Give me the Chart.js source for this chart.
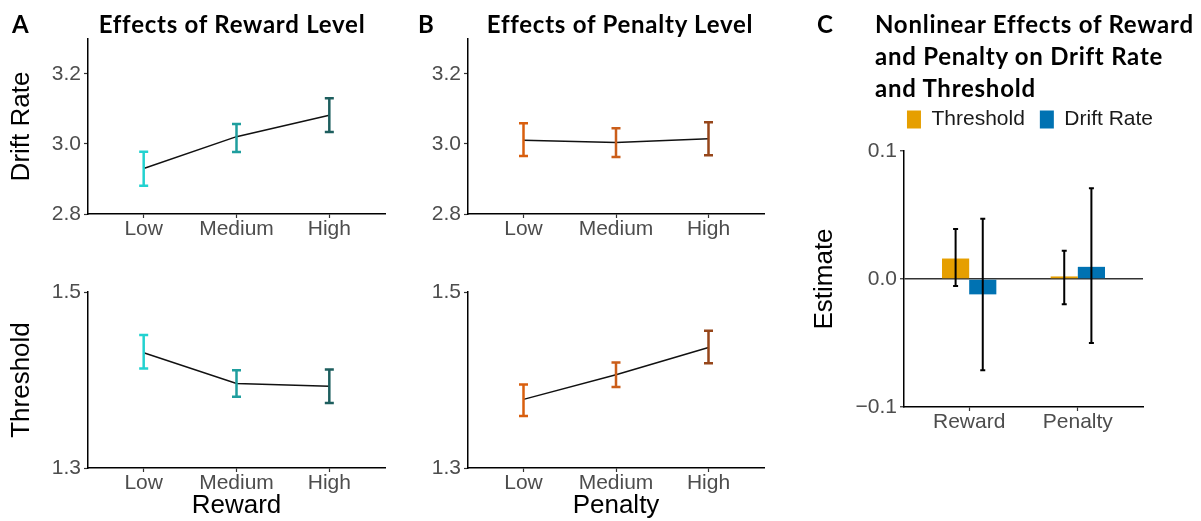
<!DOCTYPE html>
<html><head><meta charset="utf-8">
<script src="https://cdn.jsdelivr.net/npm/chart.js@4.4.0/dist/chart.umd.min.js"></script>
<style>
html,body{margin:0;padding:0;background:#fff;}
#wrap{position:relative;width:1201px;height:521px;overflow:hidden;background:#fff;}
canvas{position:absolute;}
.t{position:absolute;font-family:'Lato',sans-serif;font-weight:700;font-size:24px;letter-spacing:0.75px;color:#000;white-space:nowrap;line-height:32px;}
</style></head><body>
<div id="wrap">
  <canvas id="aTop" width="400" height="260" style="left:0;top:0"></canvas>
  <canvas id="aBot" width="400" height="261" style="left:0;top:260px"></canvas>
  <canvas id="bTop" width="400" height="260" style="left:400px;top:0"></canvas>
  <canvas id="bBot" width="400" height="261" style="left:400px;top:260px"></canvas>
  <canvas id="cChart" width="450" height="427" style="left:805px;top:94px"></canvas>
  <div class="t" style="left:12px;top:8px">A</div>
  <div class="t" style="left:32px;top:8px;width:400px;text-align:center">Effects of Reward Level</div>
  <div class="t" style="left:418px;top:8px">B</div>
  <div class="t" style="left:420px;top:8px;width:400px;text-align:center">Effects of Penalty Level</div>
  <div class="t" style="left:817px;top:8px">C</div>
  <div class="t" style="left:875px;top:8px">Nonlinear Effects of Reward<br>and Penalty on Drift Rate<br>and Threshold</div>
</div>
<script>
// ---- data ----
const levels = ['Low', 'Medium', 'High'];
const rewardDriftMean = [2.930, 3.021, 3.082];
const rewardDriftLow  = [2.881, 2.977, 3.034];
const rewardDriftHigh = [2.978, 3.057, 3.131];
const rewardThreshMean = [1.431, 1.396, 1.393];
const rewardThreshLow  = [1.413, 1.381, 1.374];
const rewardThreshHigh = [1.451, 1.411, 1.412];
const penaltyDriftMean = [3.011, 3.004, 3.015];
const penaltyDriftLow  = [2.966, 2.963, 2.968];
const penaltyDriftHigh = [3.059, 3.045, 3.062];
const penaltyThreshMean = [1.378, 1.406, 1.437];
const penaltyThreshLow  = [1.359, 1.392, 1.419];
const penaltyThreshHigh = [1.395, 1.420, 1.456];
const effectCats = ['Reward', 'Penalty'];
const thresholdEst  = [0.016, 0.002];
const thresholdLow  = [-0.0055, -0.0198];
const thresholdHigh = [0.039, 0.022];
const driftEst  = [-0.012, 0.0095];
const driftLow  = [-0.0713, -0.050];
const driftHigh = [0.047, 0.0709];
const driftTicks = [2.8, 3.0, 3.2];
const driftTickLabels = ['2.8', '3.0', '3.2'];
const threshTicks = [1.3, 1.5];
const threshTickLabels = ['1.3', '1.5'];
const estTicks = [-0.1, 0, 0.1];
const estTickLabels = ['\u22120.1', '0.0', '0.1'];

// ---- styles ----
const FONT = "'Liberation Sans', Arial, sans-serif";
const rewardColors = ['#22D2D0', '#1F9E9E', '#1D5E5E'];
const penaltyColors = ['#D95F0E', '#CB5E1A', '#96461A'];
const thresholdColor = '#E69F00';
const driftColor = '#0072B2';

const errorBars = {
  id: 'errorBars',
  afterDatasetsDraw(chart, args, opts) {
    const ctx = chart.ctx;
    const yScale = chart.scales.y;
    chart.data.datasets.forEach((ds, i) => {
      if (!ds.errLow) return;
      const meta = chart.getDatasetMeta(i);
      meta.data.forEach((el, j) => {
        const x = el.x;
        const yLo = yScale.getPixelForValue(ds.errLow[j]);
        const yHi = yScale.getPixelForValue(ds.errHigh[j]);
        const color = Array.isArray(ds.errColor) ? ds.errColor[j] : ds.errColor;
        const h = opts.cap / 2;
        ctx.save();
        ctx.strokeStyle = color;
        ctx.lineWidth = opts.width;
        ctx.beginPath();
        ctx.moveTo(x, yLo); ctx.lineTo(x, yHi);
        ctx.moveTo(x - h, yLo); ctx.lineTo(x + h, yLo);
        ctx.moveTo(x - h, yHi); ctx.lineTo(x + h, yHi);
        ctx.stroke();
        ctx.restore();
      });
    });
  }
};

const legendGap = {
  id: 'legendGap',
  afterInit(chart, args, opts) {
    const lg = chart.legend;
    if (!lg || !opts || !opts.extra) return;
    const fit = lg.fit.bind(lg);
    lg.fit = function () { fit(); this.height += opts.extra; };
  }
};

const fixY = w => s => { s.width = w; s.paddingTop = 0; s.paddingBottom = 0; };
const fixX = h => s => { s.height = h; s.paddingLeft = 0; s.paddingRight = 0; };

const tickFont = { family: FONT, size: 21 };
const titleFont = { family: FONT, size: 26 };
const axisGrid = { display: true, drawOnChartArea: false, tickLength: 4, tickColor: '#333', tickWidth: 1.2 };
const axisBorder = { display: true, color: '#000', width: 1.5 };

function linePanel(id, means, lows, highs, colors, yMin, yMax, yTicks, yLabels, yTitle, xTitle, yW, xH, pad) {
  return new Chart(document.getElementById(id), {
    type: 'line',
    data: {
      datasets: [{
        data: levels.map((l, i) => ({ x: i + 1, y: means[i] })),
        borderColor: '#111',
        borderWidth: 1.5,
        pointRadius: 0,
        tension: 0,
        fill: false,
        errLow: lows, errHigh: highs, errColor: colors
      }]
    },
    options: {
      responsive: false, animation: false, devicePixelRatio: 1,
      layout: { padding: pad },
      plugins: { legend: { display: false }, tooltip: { enabled: false }, errorBars: { width: 2.5, cap: 9 } },
      scales: {
        x: {
          type: 'linear', min: 0.4, max: 3.6, offset: false,
          afterBuildTicks: s => { s.ticks = levels.map((l, i) => ({ value: i + 1 })); },
          afterFit: fixX(xH),
          ticks: { callback: v => levels[Math.round(v) - 1], font: tickFont, color: '#4D4D4D', padding: -1, autoSkip: false, maxRotation: 0 },
          grid: axisGrid, border: axisBorder,
          title: xTitle ? { display: true, text: xTitle, font: titleFont, color: '#000', padding: { top: 0, bottom: 0 } } : { display: false }
        },
        y: {
          type: 'linear', min: yMin, max: yMax,
          afterBuildTicks: s => { s.ticks = yTicks.map(v => ({ value: v })); },
          afterFit: fixY(yW),
          ticks: { callback: (v, i) => yLabels[i], font: tickFont, color: '#4D4D4D', padding: 3 },
          grid: axisGrid, border: axisBorder,
          title: yTitle ? { display: true, text: yTitle, font: titleFont, color: '#000', padding: { top: 6, bottom: 0 } } : { display: false }
        }
      }
    },
    plugins: [errorBars]
  });
}

linePanel('aTop', rewardDriftMean, rewardDriftLow, rewardDriftHigh, rewardColors, 2.8, 3.3, driftTicks, driftTickLabels, 'Drift Rate', null, 88, 46, { top: 39, right: 15, left: 0, bottom: 0 });
linePanel('aBot', rewardThreshMean, rewardThreshLow, rewardThreshHigh, rewardColors, 1.3, 1.5, threshTicks, threshTickLabels, 'Threshold', 'Reward', 88, 53, { top: 32, right: 15, left: 0, bottom: 0 });
linePanel('bTop', penaltyDriftMean, penaltyDriftLow, penaltyDriftHigh, penaltyColors, 2.8, 3.3, driftTicks, driftTickLabels, null, null, 68, 46, { top: 39, right: 36, left: 0, bottom: 0 });
linePanel('bBot', penaltyThreshMean, penaltyThreshLow, penaltyThreshHigh, penaltyColors, 1.3, 1.5, threshTicks, threshTickLabels, null, 'Penalty', 68, 53, { top: 32, right: 36, left: 0, bottom: 0 });

new Chart(document.getElementById('cChart'), {
  type: 'bar',
  data: {
    datasets: [
      { label: 'Threshold', data: effectCats.map((c, i) => ({ x: i + 1, y: thresholdEst[i] })), backgroundColor: thresholdColor, borderWidth: 0,
        errLow: thresholdLow, errHigh: thresholdHigh, errColor: '#000' },
      { label: 'Drift Rate', data: effectCats.map((c, i) => ({ x: i + 1, y: driftEst[i] })), backgroundColor: driftColor, borderWidth: 0,
        errLow: driftLow, errHigh: driftHigh, errColor: '#000' }
    ]
  },
  options: {
    responsive: false, animation: false, devicePixelRatio: 1,
    layout: { padding: { top: 0, right: 0, left: 0, bottom: 0 } },
    datasets: { bar: { categoryPercentage: 0.5, barPercentage: 1.0 } },
    plugins: {
      tooltip: { enabled: false },
      legend: { display: true, position: 'top',
        labels: { font: { family: FONT, size: 21 }, color: '#1a1a1a', boxWidth: 14, boxHeight: 18, padding: 15 } },
      legendGap: { extra: 11 },
      errorBars: { width: 2, cap: 5 }
    },
    scales: {
      x: {
        type: 'linear', min: 0.4, max: 2.6, offset: false,
        afterBuildTicks: s => { s.ticks = effectCats.map((c, i) => ({ value: i + 1 })); },
        afterFit: fixX(114),
        ticks: { callback: v => effectCats[Math.round(v) - 1], font: tickFont, color: '#4D4D4D', padding: -1, autoSkip: false, maxRotation: 0 },
        grid: Object.assign({}, axisGrid, { offset: false }), border: axisBorder
      },
      y: {
        type: 'linear', min: -0.1, max: 0.1,
        afterBuildTicks: s => { s.ticks = estTicks.map(v => ({ value: v })); },
        afterFit: fixY(99),
        ticks: { callback: (v, i) => estTickLabels[i], font: tickFont, color: '#4D4D4D', padding: 3 },
        grid: { display: true, drawOnChartArea: true, tickLength: 4, tickColor: '#333', tickWidth: 1.2, lineWidth: 1.5,
          color: c => (c.tick && Math.abs(c.tick.value) < 1e-9) ? '#333' : 'rgba(0,0,0,0)' },
        border: axisBorder,
        title: { display: true, text: 'Estimate', font: titleFont, color: '#000', padding: { top: 4, bottom: 0 } }
      },
      yPad: {
        type: 'linear', position: 'right', display: true,
        ticks: { display: false }, grid: { display: false }, border: { display: false },
        afterFit: s => { s.width = 112; s.paddingTop = 0; s.paddingBottom = 0; }
      }
    }
  },
  plugins: [errorBars, legendGap]
});
</script>
</body></html>
